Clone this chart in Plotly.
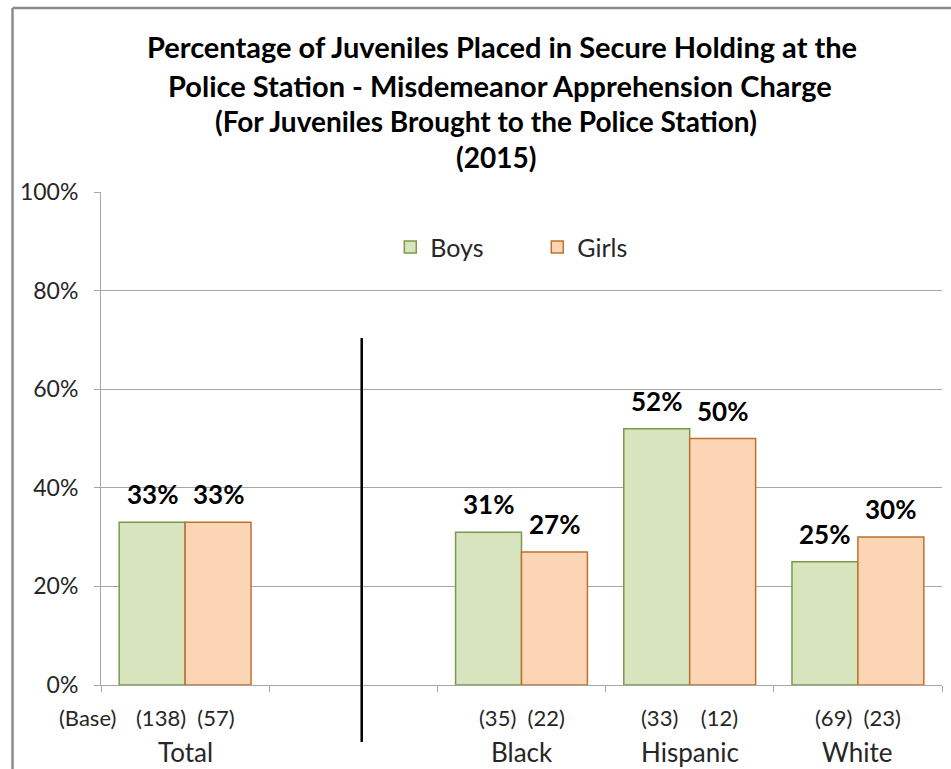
import plotly.graph_objects as go

# ---- data ----
categories = ["Total", "", "Black", "Hispanic", "White"]
boys_pct = [33, None, 31, 52, 25]
girls_pct = [33, None, 27, 50, 30]
boys_base = [138, None, 35, 33, 69]
girls_base = [57, None, 22, 12, 23]
y_ticks = [0, 20, 40, 60, 80, 100]
y_tick_labels = ["0%", "20%", "40%", "60%", "80%", "100%"]
title_lines = [
    "Percentage of Juveniles Placed in Secure Holding at the",
    "Police Station - Misdemeanor Apprehension Charge",
    "(For Juveniles Brought to the Police Station)",
    "(2015)",
]

FONT = "Lato"
BAR_W = 0.392
xs = list(range(len(categories)))
# spacing between the two base counts under each group (layout only)
base_gap = ["  ", "", "  ", "    ", "  "]

fig = go.Figure()
fig.add_trace(go.Bar(
    name="Boys", x=xs, y=boys_pct, width=BAR_W, offset=-BAR_W,
    marker=dict(color="#D7E4BD", line=dict(color="#7A9A4A", width=1.5)),
    hoverinfo="skip",
))
fig.add_trace(go.Bar(
    name="Girls", x=xs, y=girls_pct, width=BAR_W, offset=0,
    marker=dict(color="#FCD5B5", line=dict(color="#C0702E", width=1.5)),
    hoverinfo="skip",
))

annotations = []
# data labels
for i in xs:
    for vals, dx in ((boys_pct, -BAR_W / 2), (girls_pct, BAR_W / 2)):
        v = vals[i]
        if v is None:
            continue
        annotations.append(dict(
            x=i + dx, y=v, xref="x", yref="y", text=f"<b>{v}%</b>",
            showarrow=False, yanchor="middle", yshift=28,
            font=dict(family=FONT, size=26, color="#000000"),
        ))
# base counts and category names
for i in xs:
    if boys_base[i] is not None:
        gap = base_gap[i].replace(" ", "&nbsp;")
        annotations.append(dict(
            x=i, y=0, xref="x", yref="paper",
            text=f"({boys_base[i]}){gap}({girls_base[i]})",
            showarrow=False, xanchor="center", yanchor="middle", yshift=-32,
            font=dict(family=FONT, size=22, color="#262626"),
        ))
    if categories[i]:
        annotations.append(dict(
            x=i, y=0, xref="x", yref="paper", text=categories[i],
            showarrow=False, xanchor="center", yanchor="middle", yshift=-67,
            font=dict(family=FONT, size=26, color="#262626"),
        ))
annotations.append(dict(
    x=-0.0155, y=0, xref="paper", yref="paper", text="(Base)",
    showarrow=False, xanchor="center", yanchor="middle", yshift=-32,
    font=dict(family=FONT, size=22, color="#262626"),
))
# title lines
title_x = [0.477, 0.475, 0.458, 0.470]
title_shift = [146, 107, 71, 35]
title_size = [29, 29, 28, 28]
for line, tx, sh, sz in zip(title_lines, title_x, title_shift, title_size):
    annotations.append(dict(
        x=tx, y=1, xref="paper", yref="paper", text=f"<b>{line}</b>",
        showarrow=False, xanchor="center", yanchor="middle", yshift=sh,
        font=dict(family=FONT, size=sz, color="#000000"),
    ))

shapes = [
    # divider line
    dict(type="line", xref="x", yref="paper", x0=1.05, x1=1.05,
         y0=-0.1156, y1=0.704, line=dict(color="#000000", width=2.5)),
    # chart frame (left and top)
    dict(type="line", xref="paper", yref="paper", x0=-0.1052, x1=-0.1052,
         y0=-0.3, y1=1.3732, line=dict(color="#8C8C8C", width=2.5)),
    dict(type="line", xref="paper", yref="paper", x0=-0.1052, x1=1.2,
         y0=1.3732, y1=1.3732, line=dict(color="#8C8C8C", width=2.5)),
]

fig.update_layout(
    width=951, height=769,
    margin=dict(l=101, r=9, t=192, b=84),
    paper_bgcolor="white", plot_bgcolor="white",
    barmode="overlay",
    annotations=annotations,
    shapes=shapes,
    showlegend=True,
    legend=dict(
        orientation="h", x=0.344, y=0.888, xanchor="left", yanchor="middle",
        font=dict(family=FONT, size=25, color="#262626"),
        bgcolor="rgba(0,0,0,0)", entrywidth=102, entrywidthmode="pixels",
    ),
    xaxis=dict(
        range=[-0.5, 4.5], tickmode="array",
        tickvals=[-0.5, 0.5, 1.5, 2.5, 3.5, 4.5], ticktext=[""] * 6,
        ticks="outside", ticklen=6, tickcolor="#A6A6A6",
        showline=True, linecolor="#A6A6A6", linewidth=1,
        showgrid=False, zeroline=False, fixedrange=True,
    ),
    yaxis=dict(
        range=[0, 100], tickmode="array", tickvals=y_ticks, ticktext=y_tick_labels,
        ticks="outside", ticklen=6, tickcolor="#A6A6A6",
        showline=True, linecolor="#A6A6A6", linewidth=1,
        showgrid=True, gridcolor="#A6A6A6", gridwidth=1,
        zeroline=False, fixedrange=True,
        tickfont=dict(family=FONT, size=23, color="#262626"),
        ticklabelstandoff=11,
    ),
    font=dict(family=FONT),
)

fig.write_html(
    "out.html",
    config={"displayModeBar": False},
    post_script="document.body.style.margin='0';document.body.style.overflow='hidden';",
)
